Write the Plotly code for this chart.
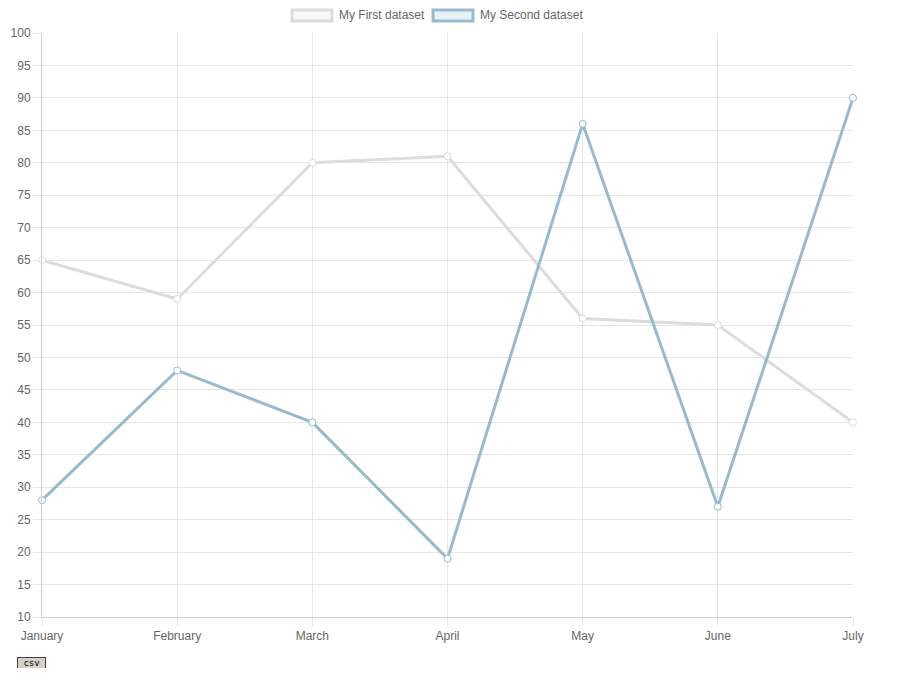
import plotly.graph_objects as go

months = ["January", "February", "March", "April", "May", "June", "July"]
first_data = [65, 59, 80, 81, 56, 55, 40]
second_data = [28, 48, 40, 19, 86, 27, 90]
y_ticks = list(range(10, 101, 5))

grey = "rgb(220,220,220)"
blue = "rgb(151,187,205)"

fig = go.Figure()
fig.add_trace(go.Scatter(x=months, y=first_data, mode="lines+markers", name="My First dataset",
                         line=dict(color=grey, width=3), cliponaxis=False,
                         marker=dict(size=7, color="white", line=dict(color=grey, width=1))))
fig.add_trace(go.Scatter(x=months, y=second_data, mode="lines+markers", name="My Second dataset",
                         line=dict(color=blue, width=3), cliponaxis=False,
                         marker=dict(size=7, color="white", line=dict(color=blue, width=1))))

# page body has an 8px margin, so figure is shrunk by 16px
fig.update_layout(
    width=885, height=660,
    margin=dict(l=34, r=40, t=25, b=51),
    plot_bgcolor="white", paper_bgcolor="white",
    showlegend=False,
    font=dict(family="Liberation Sans, Arial", size=12, color="#666"),
    xaxis=dict(type="category", range=[0, 6], showgrid=True, gridcolor="#e6e6e6",
               ticks="outside", ticklen=8, tickcolor="#e6e6e6", automargin=False,
               showline=True, linecolor="#cfcfcf", zeroline=False),
    yaxis=dict(range=[10, 100], tickvals=y_ticks, showgrid=True, gridcolor="#e6e6e6",
               ticks="outside", ticklen=8, tickcolor="#e6e6e6", automargin=False,
               showline=True, linecolor="#cfcfcf", zeroline=False),
)

# legend boxes drawn by hand, Chart.js style (positions in screen px of the plot area)
shapes = [
    dict(type="rect", xref="paper", yref="paper", x0=(292 - 42) / 811, x1=(332 - 42) / 811,
         y0=(617 - 21) / 584, y1=(617 - 10) / 584,
         line=dict(color=grey, width=3), fillcolor="rgba(220,220,220,0.2)"),
    dict(type="rect", xref="paper", yref="paper", x0=(433 - 42) / 811, x1=(473 - 42) / 811,
         y0=(617 - 21) / 584, y1=(617 - 10) / 584,
         line=dict(color=blue, width=3), fillcolor="rgba(151,187,205,0.2)"),
]
annotations = [
    dict(xref="paper", yref="paper", x=(337 - 42) / 811, y=(617 - 15.5) / 584,
         xanchor="left", yanchor="middle", text="My First dataset", showarrow=False,
         font=dict(size=12, color="#666")),
    dict(xref="paper", yref="paper", x=(478 - 42) / 811, y=(617 - 15.5) / 584,
         xanchor="left", yanchor="middle", text="My Second dataset", showarrow=False,
         font=dict(size=12, color="#666")),
    dict(xref="paper", yref="paper", x=(31 - 42) / 811, y=(617 - 663) / 584,
         xanchor="center", yanchor="middle", text="&nbsp;csv&nbsp;", showarrow=False,
         bgcolor="#d4d0c8", bordercolor="#404040", borderwidth=1, borderpad=0,
         font=dict(family="DejaVu Sans Mono", size=9, color="black")),
]
fig.update_layout(shapes=shapes, annotations=annotations)

fig.write_html("out.html")
